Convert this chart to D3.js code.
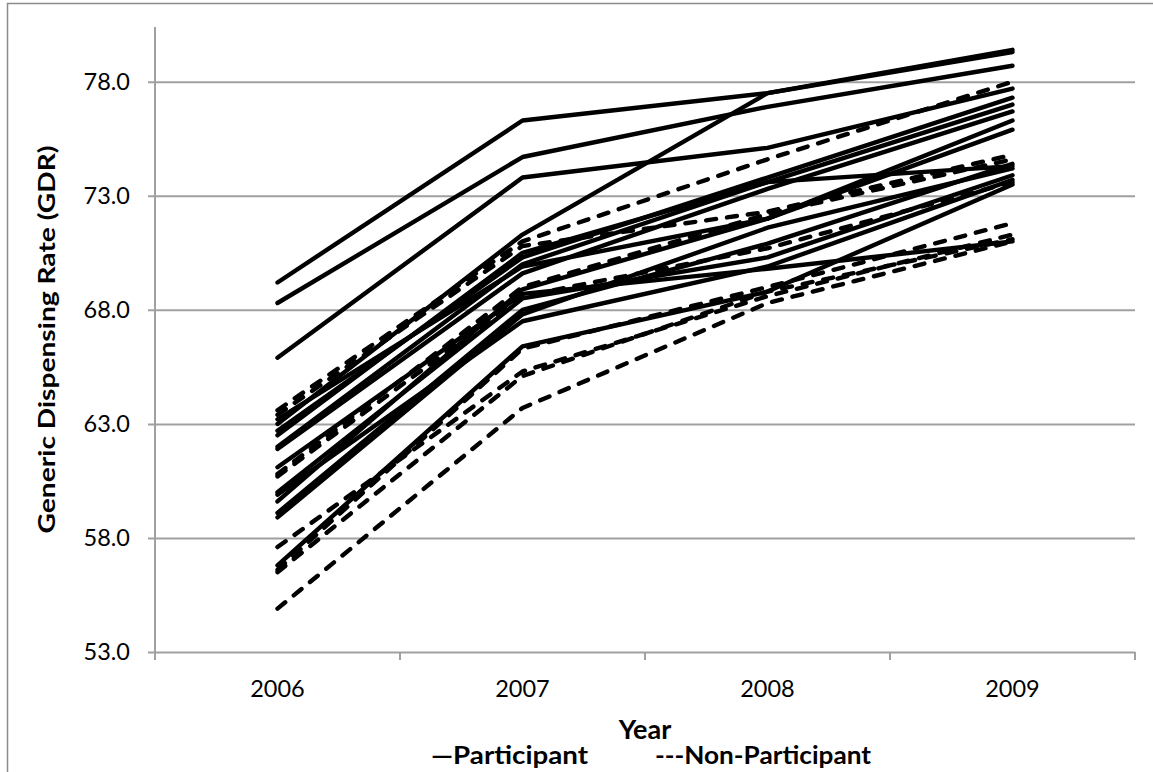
<!DOCTYPE html>
<html>
<head>
<meta charset="utf-8">
<script src="https://cdn.jsdelivr.net/npm/d3@7"></script>
<style>
  html, body { margin: 0; padding: 0; background: #fff; }
  svg { display: block; }
  text { font-family: Lato, "Open Sans", "Liberation Sans", sans-serif; fill: #000; }
</style>
</head>
<body>
<svg id="svg" width="1153" height="772"></svg>
<script>
// --- Data ---
const years = ['2006', '2007', '2008', '2009'];
const yTicks = [53, 58, 63, 68, 73, 78];

// participants (solid), one value per year
const participant = [
    [69.2, 76.3, 77.5, 79.3],
    [68.3, 74.7, 76.9, 78.7],
    [65.9, 73.8, 75.1, 77.7],
    [63.0, 71.3, 77.5, 79.4],
    [62.5, 70.5, 73.6, 74.3],
    [62.7, 70.3, 73.8, 77.3],
    [62.0, 70.0, 73.6, 77.0],
    [61.9, 69.6, 73.3, 76.7],
    [63.2, 69.9, 72.0, 76.3],
    [59.6, 68.9, 72.0, 75.9],
    [59.1, 68.0, 70.9, 74.4],
    [58.9, 67.8, 71.6, 74.2],
    [59.9, 67.5, 69.9, 73.7],
    [61.1, 68.7, 69.8, 71.0],
    [56.8, 66.4, 68.8, 73.5],
    [60.0, 68.5, 70.3, 73.9],
];

// non-participants (dashed)
const nonParticipant = [
    [63.6, 71.0, 74.6, 78.0],
    [63.4, 70.8, 72.3, 74.8],
    [60.8, 69.0, 72.2, 74.6],
    [60.7, 68.6, 70.7, 73.6],
    [56.6, 66.3, 69.0, 71.8],
    [57.6, 65.3, 68.6, 71.3],
    [56.5, 65.1, 68.8, 71.1],
    [54.9, 63.7, 68.3, 71.0],
];

// --- Layout ---
const svg = d3.select('#svg');
const plot = { left: 155, right: 1135, top: 27, bottom: 652 };
const GRID = '#a0a0a0';

const x = d3.scaleBand().domain(years).range([plot.left, plot.right]).padding(0);
const y = d3.scaleLinear().domain([53, 80.4]).range([plot.bottom, plot.top]);
const cx = d => x(d) + x.bandwidth() / 2;

// chart-area border
svg.append('rect')
    .attr('x', 7.5).attr('y', 3.5)
    .attr('width', 1160).attr('height', 800)
    .attr('fill', 'none').attr('stroke', '#8c8c8c').attr('stroke-width', 1.5);

// --- Axes ---
const yAxis = d3.axisLeft(y)
    .tickValues(yTicks)
    .tickSize(-(plot.right - plot.left))
    .tickFormat(d3.format('.1f'))
    .tickPadding(25);

const gy = svg.append('g')
    .attr('transform', `translate(${plot.left},0)`)
    .call(yAxis);
gy.select('.domain').remove();
gy.selectAll('.tick line')
    .attr('x1', -7)
    .attr('stroke', GRID).attr('stroke-width', 2);
gy.selectAll('.tick text').attr('font-size', 23.5);

svg.append('line')
    .attr('x1', plot.left).attr('x2', plot.left)
    .attr('y1', plot.top).attr('y2', plot.bottom)
    .attr('stroke', GRID).attr('stroke-width', 2);

const xAxis = d3.axisBottom(x).tickSize(0).tickPadding(28);
const gx = svg.append('g')
    .attr('transform', `translate(0,${plot.bottom})`)
    .call(xAxis);
gx.select('.domain').remove();
gx.selectAll('.tick text').attr('font-size', 23.5);

// category separators below the axis
const bounds = years.map(d => x(d)).concat([plot.right]);
svg.append('g').selectAll('line')
    .data(bounds).join('line')
    .attr('x1', d => d).attr('x2', d => d)
    .attr('y1', plot.bottom).attr('y2', plot.bottom + 8)
    .attr('stroke', GRID).attr('stroke-width', 2);

// --- Lines ---
const line = d3.line()
    .x((v, i) => cx(years[i]))
    .y(v => y(v));

svg.append('g').selectAll('path')
    .data(participant).join('path')
    .attr('d', line)
    .attr('fill', 'none')
    .attr('stroke', '#000')
    .attr('stroke-width', 4.4)
    .attr('stroke-linejoin', 'round')
    .attr('stroke-linecap', 'round');

svg.append('g').selectAll('path')
    .data(nonParticipant).join('path')
    .attr('d', line)
    .attr('fill', 'none')
    .attr('stroke', '#000')
    .attr('stroke-width', 4.4)
    .attr('stroke-dasharray', '10,11')
    .attr('stroke-linejoin', 'round')
    .attr('stroke-linecap', 'round');

// --- Titles & legend ---
svg.append('text')
    .attr('transform', `translate(55,${(plot.top + plot.bottom) / 2}) rotate(-90)`)
    .attr('text-anchor', 'middle')
    .attr('font-size', 23).attr('font-weight', 'bold')
    .attr('textLength', 388).attr('lengthAdjust', 'spacingAndGlyphs')
    .text('Generic Dispensing Rate (GDR)');

svg.append('text')
    .attr('x', 645).attr('y', 739)
    .attr('text-anchor', 'middle')
    .attr('font-size', 27).attr('font-weight', 'bold')
    .text('Year');

svg.append('text')
    .attr('x', 431).attr('y', 764)
    .attr('font-size', 25).attr('font-weight', 'bold')
    .attr('textLength', 157).attr('lengthAdjust', 'spacingAndGlyphs')
    .text('\u2014Participant');

svg.append('text')
    .attr('x', 655).attr('y', 764)
    .attr('font-size', 25).attr('font-weight', 'bold')
    .attr('textLength', 216).attr('lengthAdjust', 'spacingAndGlyphs')
    .text('---Non-Participant');
</script>
</body>
</html>
